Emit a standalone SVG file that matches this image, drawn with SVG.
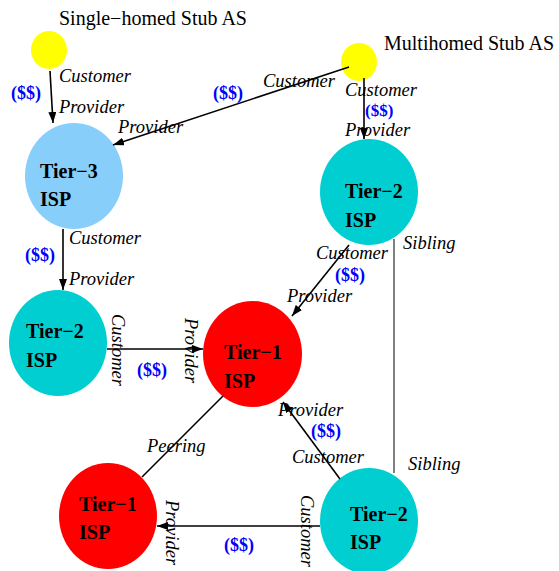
<svg xmlns="http://www.w3.org/2000/svg" width="559" height="571" viewBox="0 0 559 571">
<style>
text{font-family:"Liberation Serif","Times New Roman",serif;}
.t{font-size:20px;fill:#000;}
.n{font-size:20px;font-weight:bold;fill:#000;}
.l{font-size:18.5px;font-style:italic;fill:#000;}
.d{font-size:18px;font-weight:bold;fill:#0000ff;}
.c{stroke:#000;stroke-width:1.6;fill:none;}
.s{stroke:#000;stroke-width:1;fill:none;}
.a{marker-end:url(#ah);}
</style>
<defs>
<marker id="ah" markerUnits="userSpaceOnUse" markerWidth="11" markerHeight="8" refX="11" refY="4" orient="auto">
<path d="M0,0 L11,4 L0,8 z" fill="#000"/>
</marker>
</defs>
<rect width="559" height="571" fill="#fff"/>
<g id="stub-single">
<ellipse cx="49" cy="50" rx="18" ry="19" fill="#ffff00"/>
<text class="t" x="59" y="25">Single−homed Stub AS</text>
</g>
<g id="stub-multi">
<ellipse cx="359" cy="62" rx="18" ry="19" fill="#ffff00"/>
<text class="t" x="384" y="50">Multihomed Stub AS</text>
</g>
<g id="tier3">
<ellipse cx="74" cy="176" rx="49" ry="53" fill="#87cefa"/>
<text class="n" x="40" y="178">Tier−3</text>
<text class="n" x="40" y="206">ISP</text>
</g>
<g id="tier2-top">
<ellipse cx="369" cy="192" rx="49" ry="53" fill="#00ced1"/>
<text class="n" x="345" y="198">Tier−2</text>
<text class="n" x="345" y="227">ISP</text>
</g>
<g id="tier2-left">
<ellipse cx="58" cy="343" rx="49" ry="53" fill="#00ced1"/>
<text class="n" x="26" y="338">Tier−2</text>
<text class="n" x="26" y="367">ISP</text>
</g>
<g id="tier1-mid">
<ellipse cx="252.5" cy="354" rx="49.5" ry="53" fill="#ff0000"/>
<text class="n" x="224" y="359">Tier−1</text>
<text class="n" x="224" y="388">ISP</text>
</g>
<g id="tier1-bottom">
<ellipse cx="108" cy="516" rx="49" ry="53" fill="#ff0000"/>
<text class="n" x="79" y="511">Tier−1</text>
<text class="n" x="79" y="539">ISP</text>
</g>
<g id="tier2-bottom">
<ellipse cx="369" cy="521" rx="49" ry="53" fill="#00ced1"/>
<text class="n" x="350" y="521">Tier−2</text>
<text class="n" x="350" y="549">ISP</text>
</g>
<g id="connectors">
<line class="c a" x1="50" y1="71" x2="53" y2="123"/>
<line class="c a" x1="349" y1="67" x2="113" y2="145"/>
<line class="c a" x1="364" y1="78" x2="364" y2="139"/>
<line class="c a" x1="63" y1="229" x2="63" y2="290"/>
<line class="c a" x1="349" y1="245" x2="292" y2="316"/>
<line class="c a" x1="107" y1="349" x2="203" y2="349"/>
<line class="c a" x1="340" y1="479" x2="283" y2="402"/>
<line class="c a" x1="320" y1="526" x2="157" y2="526"/>
<line class="c" x1="223" y1="396" x2="142" y2="477"/>
<line class="s" x1="394" y1="239" x2="394" y2="473"/>
</g>
<g id="labels">
<text class="l" x="59" y="82">Customer</text>
<text class="d" x="11" y="99">($$)</text>
<text class="l" x="59" y="113">Provider</text>
<text class="d" x="213" y="99">($$)</text>
<text class="l" x="263" y="87">Customer</text>
<text class="l" x="118" y="133">Provider</text>
<text class="l" x="345" y="96">Customer</text>
<text class="d" x="365" y="116" style="font-size:17px">($$)</text>
<text class="l" x="345" y="136">Provider</text>
<text class="l" x="69" y="244">Customer</text>
<text class="d" x="25" y="261">($$)</text>
<text class="l" x="69" y="285">Provider</text>
<text class="l" x="316" y="259">Customer</text>
<text class="d" x="335" y="281">($$)</text>
<text class="l" x="287" y="302">Provider</text>
<text class="l" x="403" y="249">Sibling</text>
<text class="l" x="408" y="470">Sibling</text>
<text class="l" transform="translate(112,314) rotate(90)">Customer</text>
<text class="l" transform="translate(185,318) rotate(90)">Provider</text>
<text class="d" x="137" y="376">($$)</text>
<text class="l" x="147" y="452">Peering</text>
<text class="l" x="278" y="416">Provider</text>
<text class="d" x="311" y="437">($$)</text>
<text class="l" x="292" y="463">Customer</text>
<text class="l" transform="translate(301,495) rotate(90)">Customer</text>
<text class="l" transform="translate(166,500) rotate(90)">Provider</text>
<text class="d" x="224" y="551">($$)</text>
</g>
</svg>
